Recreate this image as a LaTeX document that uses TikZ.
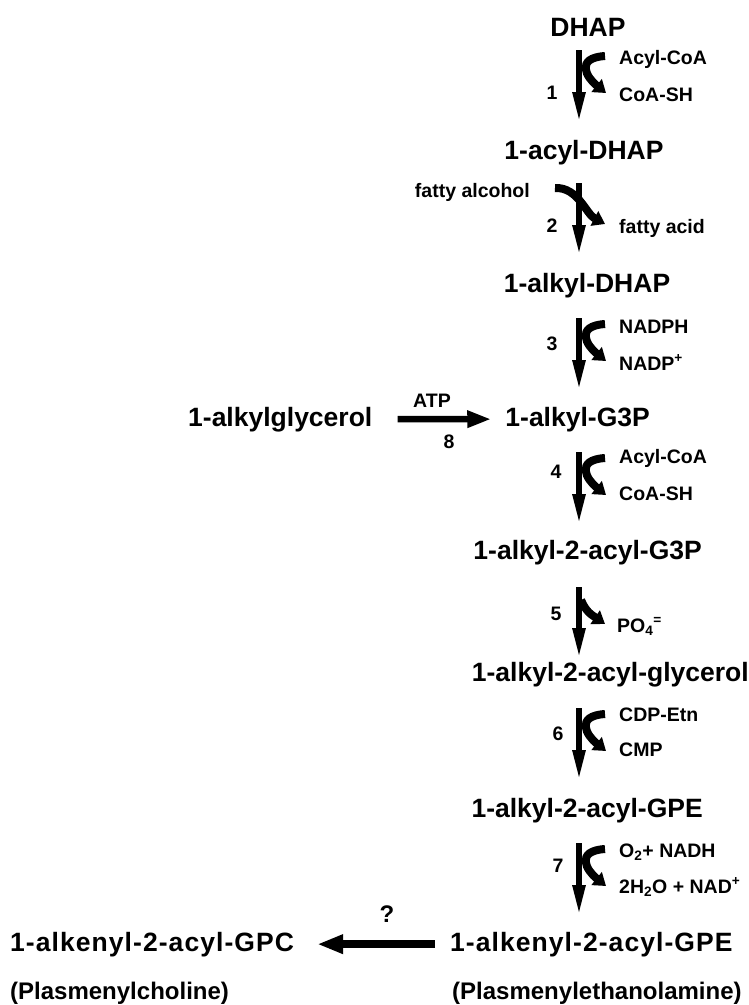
\documentclass[tikz,border=0pt]{standalone}
\usepackage{fontspec}
\setmainfont{Liberation Sans}
\usetikzlibrary{arrows.meta}
\begin{document}
\begin{tikzpicture}[x=1pt,y=-1pt,
  big/.style={font=\fontsize{26.5}{30}\selectfont\bfseries, inner sep=0pt},
  bigsp/.style={font=\fontsize{26.5}{30}\selectfont\bfseries\addfontfeature{LetterSpace=4}, inner sep=0pt},
  par/.style={font=\fontsize{24}{28}\selectfont\bfseries, inner sep=0pt},
  sm/.style={font=\fontsize{19.5}{22}\selectfont\bfseries, inner sep=0pt},
  qm/.style={font=\fontsize{24}{28}\selectfont\bfseries, inner sep=0pt},
  shaft/.style={line width=5.5pt, -{Triangle[length=30pt,width=12pt]}},
  curl/.style={line width=8pt, -{Triangle[length=12pt,width=16pt]}},
  hbar/.style={line width=6.5pt, -{Triangle[length=24pt,width=16pt]}}]
\useasboundingbox (0,0) rectangle (749,1005);

% main compounds
\node[big, anchor=base] (dhap) at (588,36) {DHAP};
\node[big, anchor=base] (acyl) at (584,159) {1-acyl-DHAP};
\node[big, anchor=base] (alkdhap) at (587,292) {1-alkyl-DHAP};
\node[big, anchor=base west] (alkgly) at (188,426) {1-alkylglycerol};
\node[big, anchor=base east] (g3p) at (650,426) {1-alkyl-G3P};
\node[big, anchor=base east] (g3ptwo) at (702,559) {1-alkyl-2-acyl-G3P};
\node[big, anchor=base east] (dag) at (749,681) {1-alkyl-2-acyl-glycerol};
\node[big, anchor=base east] (gpe) at (703,817) {1-alkyl-2-acyl-GPE};
\node[bigsp, anchor=base west] (pe) at (450,951) {1-alkenyl-2-acyl-GPE};
\node[bigsp, anchor=base west] (pc) at (10,951) {1-alkenyl-2-acyl-GPC};
\node[par, anchor=base west] (pen) at (452,999) {(Plasmenylethanolamine)};
\node[par, anchor=base west] (pcn) at (10,999) {(Plasmenylcholine)};

% shaft end points
\coordinate (t1) at (579,50);  \coordinate (b1) at (579,122);
\coordinate (t2) at (579,183); \coordinate (b2) at (579,255);
\coordinate (t3) at (579,318); \coordinate (b3) at (579,390);
\coordinate (t4) at (579,452); \coordinate (b4) at (579,524);
\coordinate (t5) at (579,587); \coordinate (b5) at (579,658);
\coordinate (t6) at (579,708); \coordinate (b6) at (579,780);
\coordinate (t7) at (579,843); \coordinate (b7) at (579,915);

\foreach \i in {1,...,7} {\draw[shaft] (t\i) -- (b\i);}

% curled side arrows
\foreach \T in {50,318,452,708,843} {
  \draw[curl] (605,\T+6) .. controls (575,\T+8) and (586,\T+27) .. (606,\T+43);
}
\draw[curl] (555,188) .. controls (578,187) and (586,214) .. (605,224);
\draw[curl] (581,600) .. controls (586,612) and (592,615) .. (605,624);

% step numbers
\node[sm, anchor=base] (n1) at (552,99) {1};
\node[sm, anchor=base] (n2) at (552,232) {2};
\node[sm, anchor=base] (n3) at (552,350) {3};
\node[sm, anchor=base] (n4) at (556,478) {4};
\node[sm, anchor=base] (n5) at (556,620) {5};
\node[sm, anchor=base] (n6) at (558,740) {6};
\node[sm, anchor=base] (n7) at (558,872) {7};

% cofactors
\node[sm, anchor=base west] (c1a) at (619,64) {Acyl-CoA};
\node[sm, anchor=base west] (c1b) at (619,101) {CoA-SH};
\node[sm, anchor=base east] (c2a) at (530,197) {fatty alcohol};
\node[sm, anchor=base west] (c2b) at (619,233) {fatty acid};
\node[sm, anchor=base west] (c3a) at (619,333) {NADPH};
\node[sm, anchor=base west] (c3b) at (619,370) {NADP\textsuperscript{+}};
\node[sm, anchor=base west] (c4a) at (619,463) {Acyl-CoA};
\node[sm, anchor=base west] (c4b) at (619,500) {CoA-SH};
\node[sm, anchor=base west] (c5) at (617,632) {PO\textsubscript{4}\textsuperscript{=}};
\node[sm, anchor=base west] (c6a) at (619,721) {CDP-Etn};
\node[sm, anchor=base west] (c6b) at (619,756) {CMP};
\node[sm, anchor=base west] (c7a) at (619,857) {O\textsubscript{2}+ NADH};
\node[sm, anchor=base west] (c7b) at (619,893) {2H\textsubscript{2}O + NAD\textsuperscript{+}};

% step 8
\draw[hbar, shorten <=25pt, shorten >=14pt] (alkgly.east) -- (g3p.west);
\node[sm, anchor=base] (atp) at (432,407) {ATP};
\node[sm, anchor=base] (n8) at (449,448) {8};

% unknown step
\draw[hbar, line width=8pt, -{Triangle[length=26pt,width=18pt]}, shorten <=15pt, shorten >=23pt] (pe.west) -- (pc.east);
\node[qm, anchor=base] (q) at (387,922) {?};
\end{tikzpicture}
\end{document}
